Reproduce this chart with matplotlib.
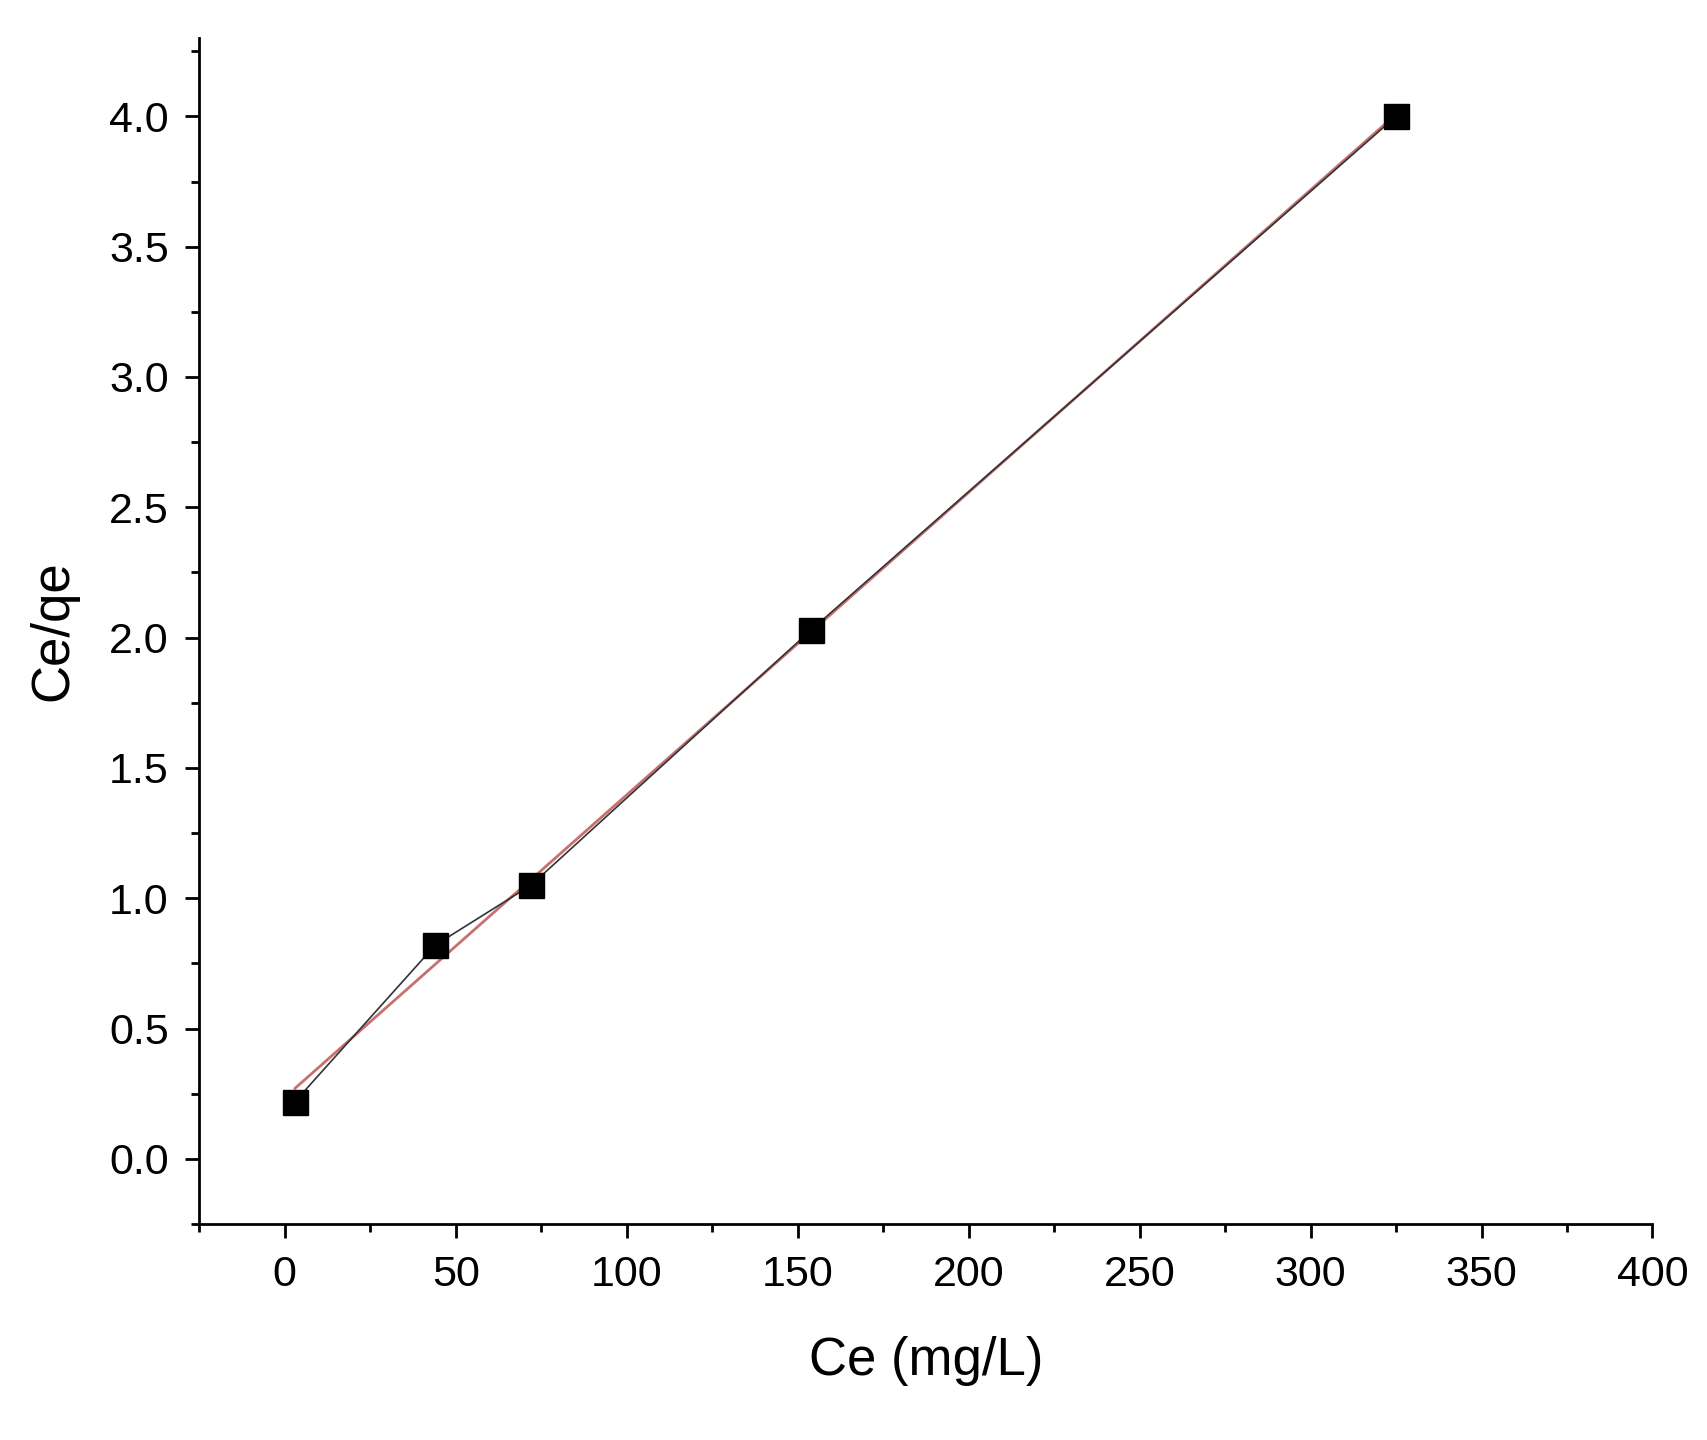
import matplotlib.pyplot as plt
import numpy as np
from matplotlib.ticker import MultipleLocator

ce = [3, 44, 72, 154, 325]
ce_qe = [0.22, 0.82, 1.05, 2.03, 4.0]

plt.rcParams['font.family'] = ['Liberation Sans', 'DejaVu Sans']

fig = plt.figure(figsize=(17.08, 14.4), dpi=100)
ax = fig.add_axes([0.1167, 0.15, 0.8508, 0.8235])

# linear fit
k, b = np.polyfit(ce, ce_qe, 1)
xf = np.array([ce[0], ce[-1]])
ax.plot(xf, k * xf + b, color='#c87070', lw=2, zorder=2)
ax.plot(ce, ce_qe, color='#333333', lw=1.2, zorder=3)
ax.plot(ce, ce_qe, 's', color='black', ms=18, zorder=4)

ax.set_xlim(-25, 400)
ax.set_ylim(-0.25, 4.3)
ax.xaxis.set_minor_locator(MultipleLocator(25))
ax.yaxis.set_minor_locator(MultipleLocator(0.25))
ax.set_xticks(np.arange(0, 401, 50))
ax.set_yticks(np.arange(0, 4.01, 0.5))
ax.set_yticklabels(['%.1f' % v for v in np.arange(0, 4.01, 0.5)])
ax.tick_params(which='major', direction='out', length=10, width=2, labelsize=31, pad=12)
ax.tick_params(which='minor', direction='out', length=6, width=2)

for s in ['top', 'right']:
    ax.spines[s].set_visible(False)
for s in ['left', 'bottom']:
    ax.spines[s].set_linewidth(2)

ax.set_xlabel('Ce (mg/L)', fontsize=38, labelpad=30)
ax.set_ylabel('Ce/qe', fontsize=38, labelpad=22)

fig.savefig('out.png', dpi=100)
